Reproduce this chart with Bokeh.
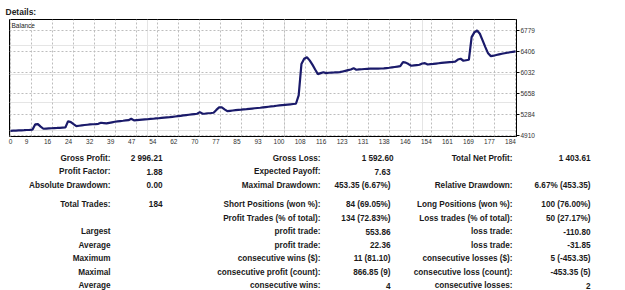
from bokeh.plotting import figure
from bokeh.models import Range1d, LinearAxis, FixedTicker, Grid, ColumnDataSource
from bokeh.layouts import column
from bokeh.core.properties import value
from bokeh.embed import file_html
from bokeh.resources import INLINE

# ---------------- data ----------------
balance = [
    5000, 5003, 5005, 5008, 5010, 5012, 5015, 5017, 5020, 5113,
    5118, 5075, 5037, 5040, 5043, 5046, 5049, 5051, 5054, 5057,
    5060, 5171, 5154, 5118, 5083, 5090, 5097, 5103, 5108, 5113,
    5117, 5120, 5124, 5143, 5137, 5131, 5141, 5151, 5161, 5167,
    5173, 5178, 5184, 5189, 5214, 5184, 5189, 5193, 5197, 5201,
    5205, 5210, 5214, 5219, 5223, 5228, 5233, 5238, 5242, 5248,
    5254, 5260, 5266, 5272, 5278, 5284, 5290, 5296, 5302, 5331,
    5302, 5306, 5311, 5315, 5320, 5370, 5414, 5414, 5380, 5348,
    5354, 5360, 5366, 5372, 5375, 5380, 5384, 5389, 5394, 5399,
    5404, 5408, 5414, 5420, 5426, 5432, 5437, 5443, 5449, 5454,
    5459, 5464, 5469, 5474, 5479, 5626, 6180, 6274, 6302, 6245,
    6170, 6085, 6002, 6020, 6037, 6020, 6027, 6030, 6032, 6035,
    6037, 6049, 6061, 6073, 6085, 6108, 6080, 6085, 6089, 6093,
    6097, 6098, 6099, 6100, 6101, 6102, 6103, 6109, 6115, 6122,
    6129, 6136, 6143, 6214, 6206, 6180, 6150, 6156, 6162, 6168,
    6190, 6196, 6173, 6178, 6183, 6189, 6195, 6200, 6205, 6210,
    6215, 6219, 6224, 6260, 6274, 6239, 6248, 6256, 6656, 6740,
    6774, 6716, 6600, 6480, 6370, 6320.65, 6328, 6340, 6351, 6362,
    6372, 6381, 6389, 6397, 6403.61,
]
trades = list(range(len(balance)))

x_tick_labels = ["0", "9", "16", "24", "32", "39", "47", "54", "62", "70", "77", "85",
                 "93", "100", "108", "116", "123", "131", "138", "146", "154", "161",
                 "169", "177", "184"]
y_tick_values = [4910, 5284, 5658, 6032, 6406, 6779]

col1_labels = ["Gross Profit:", "Profit Factor:", "Absolute Drawdown:", "Total Trades:", "",
               "Largest", "Average", "Maximum", "Maximal", "Average"]
col1_values = ["2 996.21", "1.88", "0.00", "184", "", "", "", "", "", ""]
col2_labels = ["Gross Loss:", "Expected Payoff:", "Maximal Drawdown:", "Short Positions (won %):",
               "Profit Trades (% of total):", "profit trade:", "profit trade:",
               "consecutive wins ($):", "consecutive profit (count):", "consecutive wins:"]
col2_values = ["1 592.60", "7.63", "453.35 (6.67%)", "84 (69.05%)", "134 (72.83%)",
               "553.86", "22.36", "11 (81.10)", "866.85 (9)", "4"]
col3_labels = ["Total Net Profit:", "", "Relative Drawdown:", "Long Positions (won %):",
               "Loss trades (% of total):", "loss trade:", "loss trade:",
               "consecutive losses ($):", "consecutive loss (count):", "consecutive losses:"]
col3_values = ["1 403.61", "", "6.67% (453.35)", "100 (76.00%)", "50 (27.17%)",
               "-110.80", "-31.85", "5 (-453.35)", "-453.35 (5)", "2"]

# ---------------- layout constants ----------------
FONT = "Liberation Sans"
x_start, x_end = -0.35, 184.35
frame_w = 507
n_int = len(x_tick_labels) - 1
grid_ticks = [184 * i / n_int for i in range(n_int + 1)]
shift = 5 * (x_end - x_start) / frame_w
lab_ticks = [shift] + grid_ticks[1:]

top = figure(width=625, height=150,
             x_range=Range1d(x_start, x_end), y_range=Range1d(4900, 6968),
             x_axis_location=None, y_axis_location=None,
             toolbar_location=None, output_backend="svg",
             min_border_left=9, min_border_right=109,
             min_border_top=19, min_border_bottom=14)
top.frame_align = False
top.outline_line_color = "black"
top.outline_line_width = 1
top.outline_line_alpha = 1
top.background_fill_color = "white"
top.border_fill_color = "white"

top.title.text = "Details:"
top.title.text_font = FONT
top.title.text_font_style = "bold"
top.title.text_font_size = "8.5px"
top.title.text_color = "#222222"
top.title.offset = -4
top.title.standoff = 5

# grids
top.add_layout(Grid(dimension=0, ticker=FixedTicker(ticks=grid_ticks),
                    grid_line_color="#bdbdbd", grid_line_dash="2 2", grid_line_width=1))
top.add_layout(Grid(dimension=1, ticker=FixedTicker(ticks=y_tick_values),
                    grid_line_color="#bdbdbd", grid_line_dash="2 2", grid_line_width=1))

# right y axis
yaxis = LinearAxis(ticker=FixedTicker(ticks=y_tick_values))
yaxis.major_label_overrides = {v: str(v) for v in y_tick_values}
yaxis.axis_line_color = "black"
yaxis.major_tick_line_color = "black"
yaxis.major_tick_out = 3
yaxis.major_tick_in = 0
yaxis.minor_tick_out = 0
yaxis.minor_tick_in = 0
yaxis.major_label_standoff = 1
yaxis.major_label_text_font = FONT
yaxis.major_label_text_font_size = "6.5px"
yaxis.major_label_text_color = "#333333"
top.add_layout(yaxis, "right")

# bottom x axis (labels sit just left of the grid lines, as in the source)
top.extra_x_ranges = {"lab": Range1d(x_start + shift, x_end + shift)}
xaxis = LinearAxis(x_range_name="lab", ticker=FixedTicker(ticks=lab_ticks))
xaxis.major_label_overrides = dict(zip(lab_ticks, x_tick_labels))
xaxis.axis_line_color = None
xaxis.major_tick_out = 0
xaxis.major_tick_in = 0
xaxis.minor_tick_out = 0
xaxis.minor_tick_in = 0
xaxis.major_label_standoff = 2
xaxis.major_label_text_font = FONT
xaxis.major_label_text_font_size = "6.5px"
xaxis.major_label_text_color = "#333333"
top.add_layout(xaxis, "below")

src = ColumnDataSource(data=dict(trade=trades, balance=balance))
top.line("trade", "balance", source=src, line_color="#1a1a6a", line_width=2.2)

top.text(x=[x_start], y=[6968], text=["Balance"], x_offset=2, y_offset=2,
         text_baseline="top", text_align="left", text_font=value(FONT),
         text_font_size="6.5px", text_color="#222222")

# ---------------- statistics table ----------------
row_y = [157.5, 171, 184.5, 203.5, 217.5, 231, 244.5, 258, 271.5, 285]
n_rows = len(row_y)
col_x = [
    [110] * n_rows,                 # column 1 labels (right edge)
    [162] * n_rows,                 # column 1 values
    [320] * n_rows,                 # column 2 labels
    [393] + [390] * (n_rows - 1),   # column 2 values
    [512] * n_rows,                 # column 3 labels
    [590] * n_rows,                 # column 3 values
]

bottom = figure(width=625, height=140,
                x_range=Range1d(0, 625), y_range=Range1d(290, 150),
                x_axis_location=None, y_axis_location=None,
                toolbar_location=None, output_backend="svg",
                min_border_left=0, min_border_right=0,
                min_border_top=0, min_border_bottom=0)
bottom.frame_align = False
bottom.outline_line_color = None
bottom.background_fill_color = "white"
bottom.border_fill_color = "white"
bottom.xgrid.visible = False
bottom.ygrid.visible = False

for xs, texts in zip(col_x, [col1_labels, col1_values, col2_labels,
                             col2_values, col3_labels, col3_values]):
    bottom.text(x=xs, y=row_y, text=texts,
                text_align="right", text_baseline="middle",
                text_font=value(FONT), text_font_style="bold",
                text_font_size="8.2px", text_color="#1a1a1a")

layout = column(top, bottom, spacing=0)
open("out.html", "w").write(file_html(layout, INLINE))
